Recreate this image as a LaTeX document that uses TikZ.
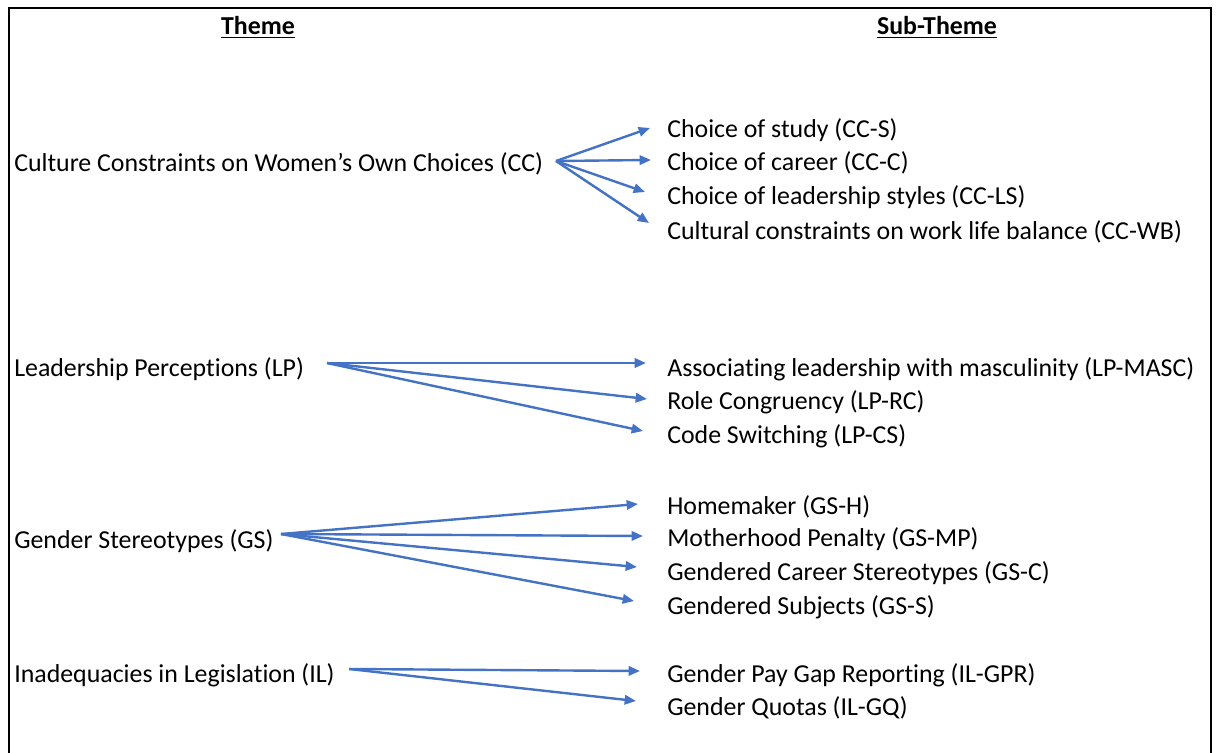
\documentclass[tikz,border=0pt]{standalone}
\usepackage{fontspec}
\setmainfont{Carlito}[Ligatures={NoCommon,NoContextual}]
\usetikzlibrary{arrows.meta}
\definecolor{arrowblue}{HTML}{4472C4}
\begin{document}
\begin{tikzpicture}[x=0.75pt,y=-0.75pt,
  txt/.style={anchor=base west,inner sep=0pt,font=\fontsize{19.4pt}{22pt}\selectfont},
  hdr/.style={anchor=base,inner sep=0pt,font=\fontsize{19.4pt}{22pt}\selectfont\bfseries},
  link/.style={draw=arrowblue,line width=1.8pt,-{Triangle[length=8.5pt,width=7pt]}}]
\useasboundingbox (0,0) rectangle (1218,753);
\draw[line width=1.5pt] (9,760) -- (9,8) -- (1211,8) -- (1211,760);
% headers
\node[hdr] (h1) at (258,35) {\underline{Theme}};
\node[hdr] (h2) at (937,35) {\underline{Sub-Theme}};
% themes
\node[txt] (cc) at (14,171.5) {Culture Constraints on Women’s Own Choices (CC)};
\node[txt] (lp) at (14,376.5) {Leadership Perceptions (LP)};
\node[txt] (gs) at (14,548.5) {Gender Stereotypes (GS)};
\node[txt] (il) at (14,682.5) {Inadequacies in Legislation (IL)};
% sub-themes
\node[txt] (ccs) at (667,137.5) {Choice of study (CC-S)};
\node[txt] (ccc) at (667,170.5) {Choice of career (CC-C)};
\node[txt] (ccls) at (667,204.5) {Choice of leadership styles (CC-LS)};
\node[txt] (ccwb) at (667,239.5) {Cultural constraints on work life balance (CC-WB)};
\node[txt] (lpm) at (667,376.5) {Associating leadership with masculinity (LP-MASC)};
\node[txt] (lprc) at (667,409.5) {Role Congruency (LP-RC)};
\node[txt] (lpcs) at (667,443.5) {Code Switching (LP-CS)};
\node[txt] (gsh) at (667,514.5) {Homemaker (GS-H)};
\node[txt] (gsmp) at (667,546.5) {Motherhood Penalty (GS-MP)};
\node[txt] (gsc) at (667,580.5) {Gendered Career Stereotypes (GS-C)};
\node[txt] (gss) at (667,614.5) {Gendered Subjects (GS-S)};
\node[txt] (ilg) at (667,682.5) {Gender Pay Gap Reporting (IL-GPR)};
\node[txt] (ilq) at (667,715.5) {Gender Quotas (IL-GQ)};
% arrow origins and tips
\coordinate (cco) at (556,161);
\coordinate (lpo) at (327,363);
\coordinate (gso) at (281,534);
\coordinate (ilo) at (349,669);
\coordinate (tccs) at (650,128);
\coordinate (tccc) at (651,160);
\coordinate (tccls) at (645,192);
\coordinate (tccwb) at (649,223);
\coordinate (tlpm) at (646,363);
\coordinate (tlprc) at (647,399);
\coordinate (tlpcs) at (643,431);
\coordinate (tgsh) at (638,504);
\coordinate (tgsmp) at (643,536);
\coordinate (tgsc) at (637,567);
\coordinate (tgss) at (634,601);
\coordinate (tilg) at (640,671);
\coordinate (tilq) at (636,701);
\foreach \t in {tccs,tccc,tccls,tccwb} \draw[link] (cco) -- (\t);
\foreach \t in {tlpm,tlprc,tlpcs} \draw[link] (lpo) -- (\t);
\foreach \t in {tgsh,tgsmp,tgsc,tgss} \draw[link] (gso) -- (\t);
\foreach \t in {tilg,tilq} \draw[link] (ilo) -- (\t);
\end{tikzpicture}
\end{document}
